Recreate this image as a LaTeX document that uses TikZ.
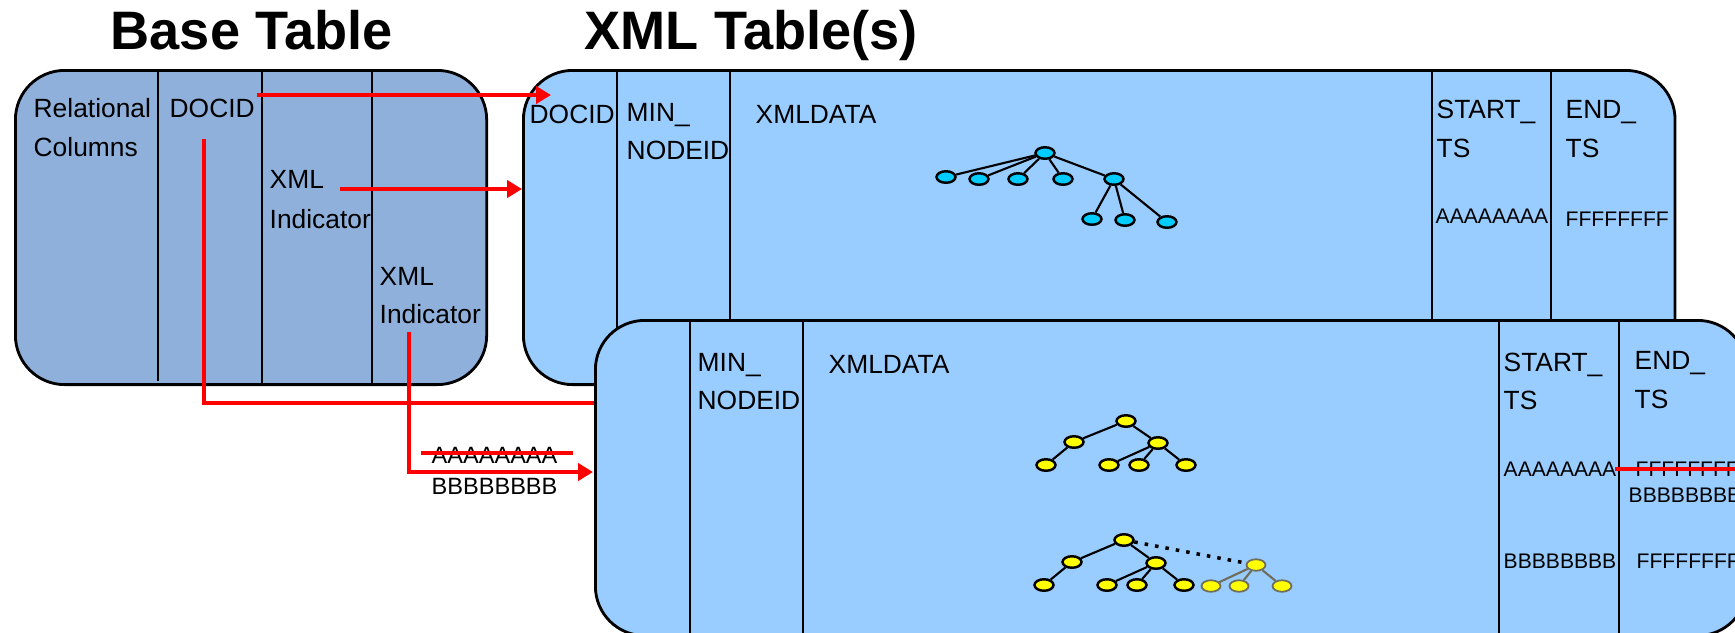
\documentclass[tikz,border=0pt]{standalone}
\usepackage{fontspec}
\setmainfont{Liberation Sans}
\usetikzlibrary{arrows.meta,shapes.geometric}
\definecolor{basefill}{RGB}{143,176,219}
\definecolor{xmlfill}{RGB}{153,204,255}
\definecolor{cyannode}{RGB}{0,204,255}
\definecolor{yellownode}{RGB}{255,255,0}
\definecolor{fadeedge}{RGB}{110,110,90}
\begin{document}
\begin{tikzpicture}[x=0.01cm,y=-0.01cm,
  lbl/.style={anchor=base west,inner sep=0,font=\fontsize{7.5}{9}\selectfont},
  small/.style={anchor=base west,inner sep=0,font=\fontsize{6}{7}\selectfont},
  mid/.style={anchor=base west,inner sep=0,font=\fontsize{6.7}{8}\selectfont},
  ttl/.style={anchor=base west,inner sep=0,font=\bfseries\fontsize{15.4}{18}\selectfont},
  tbl/.style={draw=black,line width=0.8pt,rounded corners=14pt,anchor=north west,inner sep=0},
  col/.style={draw=black,line width=0.8pt},
  rline/.style={draw=red,line width=1.2pt},
  rarrow/.style={rline,-{Triangle[length=4.2pt,width=4.8pt]}},
  tnode/.style={ellipse,draw=black,line width=0.7pt,minimum width=1.9mm,minimum height=1.15mm,inner sep=0},
  cnode/.style={tnode,fill=cyannode},
  ynode/.style={tnode,fill=yellownode},
  fnode/.style={tnode,fill=yellownode,draw=fadeedge,line width=0.5pt},
  tedge/.style={draw=black,line width=0.6pt},
  fedge/.style={draw=fadeedge,line width=0.6pt}
]
\useasboundingbox (0,0) rectangle (1735,632);
\clip (0,0) rectangle (1735,632);

% titles
\node[ttl] (t1) at (110,49) {Base Table};
\node[ttl] (t2) at (584,49) {XML Table(s)};

% base table
\node[tbl,fill=basefill,minimum width=4.71cm,minimum height=3.14cm] (base) at (14,69) {};
\draw[col] (158,69) -- (158,381);
\draw[col] (262,69) -- (262,383);
\draw[col] (372,69) -- (372,383);
\node[lbl] (rel1) at (33,117) {Relational};
\node[lbl] (rel2) at (33,156) {Columns};
\node[lbl] (bdoc) at (169,117) {DOCID};
\node[lbl] (xi1a) at (269,188) {XML};
\node[lbl] (xi1b) at (269,228) {Indicator};
\node[lbl] (xi2a) at (379,285) {XML};
\node[lbl] (xi2b) at (379,323) {Indicator};

% back XML table
\node[tbl,fill=xmlfill,minimum width=11.51cm,minimum height=3.14cm] (xa) at (522,69) {};
\draw[col] (617,69) -- (617,330);
\draw[col] (730,69) -- (730,330);
\draw[col] (1432,69) -- (1432,330);
\draw[col] (1551,69) -- (1551,330);
\node[lbl] (adoc) at (529,123) {DOCID};
\node[lbl] (amin1) at (626,121) {MIN\_};
\node[lbl] (amin2) at (626,159) {NODEID};
\node[lbl] (axml) at (755,123) {XMLDATA};
\node[lbl] (ast1) at (1436,118) {START\_};
\node[lbl] (ast2) at (1436,157) {TS};
\node[lbl] (aen1) at (1565,118) {END\_};
\node[lbl] (aen2) at (1565,157) {TS};
\node[small] (aA) at (1435,223) {AAAAAAAA};
\node[small] (aF) at (1565,226) {FFFFFFFF};

% cyan tree
\node[cnode] (cr) at (1045,153) {};
\node[cnode] (c1) at (946,177) {};
\node[cnode] (c2) at (979,179) {};
\node[cnode] (c3) at (1018,179) {};
\node[cnode] (c4) at (1063,179) {};
\node[cnode] (c5) at (1114,179) {};
\node[cnode] (c6) at (1092,219) {};
\node[cnode] (c7) at (1125,220) {};
\node[cnode] (c8) at (1167,222) {};
\foreach \n in {c1,c2,c3,c4,c5} \draw[tedge] (cr) -- (\n);
\foreach \n in {c6,c7,c8} \draw[tedge] (c5) -- (\n);

% front XML table
\node[tbl,fill=xmlfill,minimum width=11.51cm,minimum height=3.15cm] (xb) at (594,319) {};
\draw[col] (690,319) -- (690,640);
\draw[col] (803,319) -- (803,640);
\draw[col] (1499,319) -- (1499,640);
\draw[col] (1619,319) -- (1619,640);
\node[lbl] (bmin1) at (697,371) {MIN\_};
\node[lbl] (bmin2) at (697,409) {NODEID};
\node[lbl] (bxml) at (828,373) {XMLDATA};
\node[lbl] (bst1) at (1503,371) {START\_};
\node[lbl] (bst2) at (1503,409) {TS};
\node[lbl] (ben1) at (1634,369) {END\_};
\node[lbl] (ben2) at (1634,408) {TS};
\node[small] (bA) at (1503,476) {AAAAAAAA};
\node[small] (bFold) at (1635,476) {FFFFFFFF};
\node[small] (bB) at (1628,502) {BBBBBBBB};
\node[small] (bB2) at (1503,568) {BBBBBBBB};
\node[small] (bF2) at (1636,568) {FFFFFFFF};
\coordinate (fs1) at (1615,469);
\coordinate (fs2) at (1745,469);
\draw[rline] (fs1) -- (fs2);

% yellow tree 1
\node[ynode] (y0) at (1126,421) {};
\node[ynode] (y1) at (1074,442) {};
\node[ynode] (y2) at (1158,443) {};
\node[ynode] (y3) at (1046,465) {};
\node[ynode] (y4) at (1109,465) {};
\node[ynode] (y5) at (1139,465) {};
\node[ynode] (y6) at (1186,465) {};
\draw[tedge] (y0) -- (y1);
\draw[tedge] (y0) -- (y2);
\draw[tedge] (y1) -- (y3);
\foreach \n in {y4,y5,y6} \draw[tedge] (y2) -- (\n);

% yellow tree 2
\node[ynode] (z0) at (1124,540) {};
\node[ynode] (z1) at (1072,562) {};
\node[ynode] (z2) at (1156,563) {};
\node[ynode] (z3) at (1044,585) {};
\node[ynode] (z4) at (1107,585) {};
\node[ynode] (z5) at (1137,585) {};
\node[ynode] (z6) at (1184,585) {};
\draw[tedge] (z0) -- (z1);
\draw[tedge] (z0) -- (z2);
\draw[tedge] (z1) -- (z3);
\foreach \n in {z4,z5,z6} \draw[tedge] (z2) -- (\n);
% faded added subtree
\node[fnode] (e0) at (1256,565) {};
\node[fnode] (e1) at (1211,586) {};
\node[fnode] (e2) at (1239,586) {};
\node[fnode] (e3) at (1282,586) {};
\foreach \n in {e1,e2,e3} \draw[fedge] (e0) -- (\n);
\draw[black,line width=1pt,dotted] (z0) -- (e0);

% red connectors
\coordinate (s1) at (257,95);
\coordinate (d1) at (551,95);
\draw[rarrow] (s1) -- (d1);
\coordinate (s2) at (340,189);
\coordinate (d2) at (522,189);
\draw[rarrow] (s2) -- (d2);
\coordinate (s3) at (204,139);
\coordinate (d3) at (594,403);
\draw[rline] (s3) |- (d3);
\coordinate (s4) at (409,332);
\coordinate (d4) at (593,472);
\draw[rarrow] (s4) |- (d4);

% version labels
\node[mid] (oldA) at (431,463) {AAAAAAAA};
\node[mid] (newB) at (431,494) {BBBBBBBB};
\coordinate (os1) at (421,453);
\coordinate (os2) at (573,453);
\draw[rline] (os1) -- (os2);
\end{tikzpicture}
\end{document}
